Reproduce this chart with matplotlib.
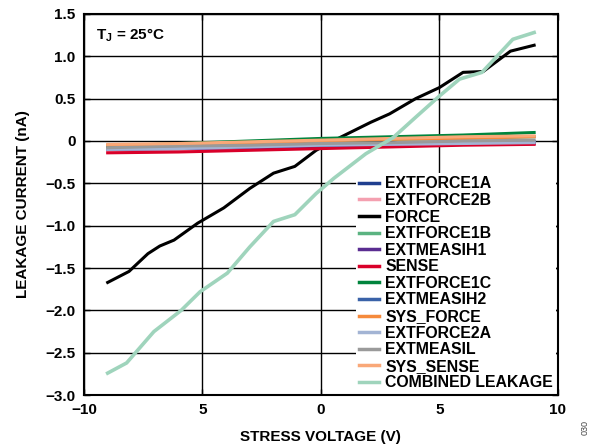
import matplotlib
matplotlib.use("Agg")
from matplotlib import pyplot as plt

plt.rcParams['font.family'] = ['Liberation Sans', 'DejaVu Sans']
plt.rcParams['font.weight'] = 'bold'
plt.rcParams['mathtext.fontset'] = 'custom'
plt.rcParams['mathtext.rm'] = 'Liberation Sans:bold'
plt.rcParams['mathtext.bf'] = 'Liberation Sans:bold'

# flat channels, sampled at these voltages
v_flat = [-9, -6, -3, 0, 3, 6, 9]
extforce1a = [-0.08, -0.07, -0.06, -0.05, -0.03, -0.02, -0.01]
extforce2b = [-0.11, -0.10, -0.08, -0.06, -0.05, -0.04, -0.03]
extforce1b = [-0.06, -0.04, -0.02, 0.00, 0.02, 0.03, 0.05]
extmeasih1 = [-0.10, -0.09, -0.08, -0.07, -0.05, -0.04, -0.03]
sense = [-0.14, -0.13, -0.11, -0.09, -0.07, -0.05, -0.04]
extforce1c = [-0.06, -0.03, 0.00, 0.03, 0.05, 0.07, 0.10]
extmeasih2 = [-0.09, -0.08, -0.06, -0.05, -0.03, -0.02, -0.01]
sys_force = [-0.05, -0.04, -0.02, 0.00, 0.02, 0.03, 0.05]
extforce2a = [-0.10, -0.09, -0.07, -0.05, -0.04, -0.03, -0.02]
extmeasil = [-0.08, -0.06, -0.05, -0.03, -0.02, 0.00, 0.01]
sys_sense = [-0.04, -0.03, -0.01, 0.01, 0.03, 0.05, 0.06]

v_force = [-9.0, -8.1, -7.3, -6.8, -6.2, -5.2, -4.1, -3.0, -2.0, -1.1,
           -0.2, 0.8, 2.1, 2.9, 4.0, 5.0, 6.0, 6.85, 8.0, 9.0]
force = [-1.67, -1.54, -1.33, -1.24, -1.17, -0.97, -0.79, -0.56, -0.38, -0.30,
         -0.11, 0.04, 0.22, 0.32, 0.50, 0.63, 0.81, 0.82, 1.06, 1.13]

v_comb = [-9.0, -8.2, -7.05, -5.9, -5.1, -3.95, -3.0, -2.0, -1.1, -0.2,
          0.55, 1.9, 3.05, 4.0, 5.0, 5.85, 6.8, 7.4, 8.1, 9.0]
combined = [-2.74, -2.62, -2.25, -2.0, -1.78, -1.56, -1.25, -0.95, -0.87, -0.62,
            -0.44, -0.15, 0.04, 0.28, 0.53, 0.73, 0.81, 0.99, 1.20, 1.28]

series = [
    ("EXTFORCE1A", v_flat, extforce1a, "#1f3f8f"),
    ("EXTFORCE2B", v_flat, extforce2b, "#f4a0b0"),
    ("FORCE", v_force, force, "#000000"),
    ("EXTFORCE1B", v_flat, extforce1b, "#5bb381"),
    ("EXTMEASIH1", v_flat, extmeasih1, "#5a2d91"),
    ("SENSE", v_flat, sense, "#d9002a"),
    ("EXTFORCE1C", v_flat, extforce1c, "#00843d"),
    ("EXTMEASIH2", v_flat, extmeasih2, "#3a62a8"),
    ("SYS_FORCE", v_flat, sys_force, "#f58a3c"),
    ("EXTFORCE2A", v_flat, extforce2a, "#a3b4d4"),
    ("EXTMEASIL", v_flat, extmeasil, "#9a9a9a"),
    ("SYS_SENSE", v_flat, sys_sense, "#f9a878"),
    ("COMBINED LEAKAGE", v_comb, combined, "#9fd4bc"),
]

fig = plt.figure(figsize=(6.13, 4.48), dpi=100)
ax = fig.add_axes([0.137, 0.118, 0.773, 0.851])

for name, xs, ys, col in series:
    lw = 2.6 if name == "COMBINED LEAKAGE" else 2.2
    ax.plot(xs, ys, color=col, lw=lw, label=name, solid_joinstyle='round')

ax.set_xlim(-10, 10)
ax.set_ylim(-3.0, 1.5)
ax.set_xticks([-10, -5, 0, 5, 10])
ax.set_xticklabels(["\u221210", "5", "0", "5", "10"])
ax.set_yticks([-3.0, -2.5, -2.0, -1.5, -1.0, -0.5, 0, 0.5, 1.0, 1.5])
ax.set_yticklabels(["\u22123.0", "\u22122.5", "\u22122.0", "\u22121.5", "\u22121.0",
                    "\u22120.5", "0", "0.5", "1.0", "1.5"])
ax.grid(True, color='black', lw=1.0)
ax.set_axisbelow(True)
ax.tick_params(direction='in', length=4, width=1, top=True, right=True,
               labelsize=11, pad=6)
for s in ax.spines.values():
    s.set_linewidth(1.5)

ax.set_xlabel("STRESS VOLTAGE (V)", fontsize=11, fontweight='bold', labelpad=9)
ax.set_ylabel("LEAKAGE CURRENT (nA)", fontsize=11, fontweight='bold', labelpad=11)

ax.text(0.026, 0.945, r"T$_\mathregular{J}$ = 25°C", transform=ax.transAxes,
        fontsize=11, fontweight='bold', va='center', ha='left')

leg = ax.legend(loc='lower right', bbox_to_anchor=(1.0, 0.0), borderaxespad=0.1,
                frameon=True, framealpha=1, edgecolor='none', fancybox=False,
                prop={'size': 11.4, 'weight': 'bold'}, handlelength=1.25,
                handletextpad=0.4, labelspacing=0.1, borderpad=0.2)
for line in leg.get_lines():
    line.set_linewidth(2.5)
leg.set_zorder(1.5)

fig.text(0.955, 0.045, "030", rotation=90, fontsize=6.5, fontweight='normal',
         color='#444444', ha='center', va='center')

fig.savefig("out.png", dpi=100)
